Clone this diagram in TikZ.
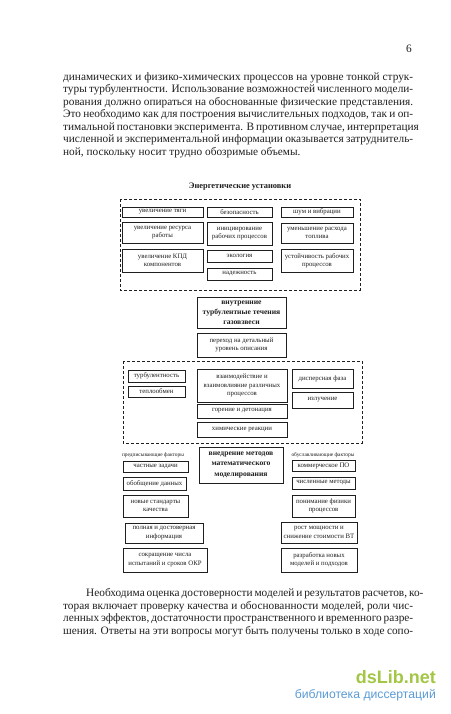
\documentclass[tikz,border=0pt]{standalone}
\usepackage{fontspec}
\setmainfont{Liberation Serif}
\newfontfamily\wmfont{Liberation Sans}
\definecolor{ink}{gray}{0.12}
\definecolor{wmgreen}{HTML}{A3C644}
\definecolor{wmblue}{HTML}{5B9BD5}
\tikzset{
  bx/.style={draw=ink, line width=0.7pt, inner sep=0pt, align=center, text=ink,
    font=\fontsize{6.8}{8.3}\selectfont},
  bxb/.style={bx, font=\fontsize{7.6}{10.2}\selectfont\bfseries},
  frame/.style={draw=ink, line width=0.6pt, dash pattern=on 3pt off 2pt},
  hdr/.style={text=ink, inner sep=0pt, font=\fontsize{5.4}{6}\selectfont},
  bodyline/.style={text=ink, inner sep=0pt, anchor=base west, font=\fontsize{11.3}{12.5}\selectfont}
}
\begin{document}
\begin{tikzpicture}[x=1pt,y=-1pt]
\useasboundingbox (0,0) rectangle (450,714);
\fill[white] (0,0) rectangle (450,714);

% page number
\node[bodyline] (pg) at (406,53) {6};

% first paragraph
\node[bodyline] (a1) at (63,80.5) {\makebox[350pt][s]{динамических и физико-химических процессов на уровне тонкой струк-}};
\node[bodyline] (a2) at (63,93) {\makebox[350pt][s]{туры турбулентности. Использование возможностей численного модели-}};
\node[bodyline] (a3) at (63,105.5) {\makebox[350pt][s]{рования должно опираться на обоснованные физические представления.}};
\node[bodyline] (a4) at (63,118) {\makebox[350pt][s]{Это необходимо как для построения вычислительных подходов, так и оп-}};
\node[bodyline] (a5) at (63,130.5) {\makebox[350pt][s]{тимальной постановки эксперимента. В противном случае, интерпретация}};
\node[bodyline] (a6) at (63,143) {\makebox[350pt][s]{численной и экспериментальной информации оказывается затруднитель-}};
\node[bodyline] (a7) at (63,155.5) {ной, поскольку носит трудно обозримые объемы.};

% title
\node[text=ink, font=\fontsize{8.4}{10}\selectfont\bfseries] (title) at (240,187) {Энергетические установки};

% block 1
\draw[frame] (120,199) rectangle (360,290);
\node[bx, minimum width=81pt, minimum height=10pt] (l1) at (162.5,212) {увеличение тяги};
\node[bx, minimum width=81pt, minimum height=21pt] (l2) at (162.5,232.5) {увеличение ресурса\\работы};
\node[bx, minimum width=81pt, minimum height=23pt] (l3) at (162.5,260.5) {увеличение КПД\\компонентов};
\node[bx, minimum width=65pt, minimum height=10pt] (m1) at (239.5,212.5) {безопасность};
\node[bx, minimum width=65pt, minimum height=23pt] (m2) at (239.5,233.5) {инициирование\\рабочих процессов};
\node[bx, minimum width=65pt, minimum height=12pt] (m3) at (239.5,256) {экология};
\node[bx, minimum width=65pt, minimum height=12pt] (m4) at (239.5,274) {надежность};
\node[bx, minimum width=72pt, minimum height=10pt] (r1) at (317,212) {шум и вибрации};
\node[bx, minimum width=72pt, minimum height=20pt] (r2) at (317,233) {уменьшение расхода\\топлива};
\node[bx, minimum width=72pt, minimum height=23pt] (r3) at (317,260.5) {устойчивость рабочих\\процессов};

% central boxes
\node[bxb, minimum width=89pt, minimum height=31pt] (c1) at (241.5,312.5) {внутренние\\турбулентные течения\\газовзвеси};
\node[bx, minimum width=89pt, minimum height=24pt] (c2) at (241.5,345) {переход на детальный\\уровень описания};

% block 2
\draw[frame] (123,361) rectangle (362,443);
\node[bx, minimum width=57pt, minimum height=12pt] (t1) at (156.5,376) {турбулентность};
\node[bx, minimum width=57pt, minimum height=11pt] (t2) at (156.5,391.5) {теплообмен};
\node[bx, minimum width=90pt, minimum height=33pt] (v1) at (242,385.5) {взаимодействие и\\взаимовлияние различных\\процессов};
\node[bx, minimum width=90pt, minimum height=14pt] (v2) at (242,411) {горение и детонация};
\node[bx, minimum width=90pt, minimum height=15pt] (v3) at (242,429.5) {химические реакции};
\node[bx, minimum width=61pt, minimum height=19pt] (d1) at (322.5,378.5) {дисперсная фаза};
\node[bx, minimum width=61pt, minimum height=16pt] (d2) at (322.5,400) {излучение};

% block 3
\node[bxb, minimum width=84pt, minimum height=36pt] (b) at (241,465) {внедрение методов\\математического\\моделирования};
\node[hdr] (hl) at (153,455) {предписывающие факторы};
\node[hdr] (hr) at (323,455) {обуславливающие факторы};

\node[bx, minimum width=65pt, minimum height=11pt] (p1) at (155.5,466.5) {частные задачи};
\node[bx, minimum width=63pt, minimum height=13pt] (p2) at (154.5,483.5) {обобщение данных};
\node[bx, minimum width=65pt, minimum height=22pt] (p3) at (155.5,506) {новые стандарты\\качества};
\node[bx, minimum width=78pt, minimum height=20pt] (p4) at (164,533) {полная и достоверная\\информация};
\node[bx, minimum width=84pt, minimum height=24pt] (p5) at (165,560) {сокращение числа\\испытаний и сроков ОКР};

\node[bx, minimum width=63pt, minimum height=11pt] (q1) at (323.5,465.5) {коммерческое ПО};
\node[bx, minimum width=63pt, minimum height=12pt] (q2) at (323.5,483) {численные методы};
\node[bx, minimum width=63pt, minimum height=22pt] (q3) at (323.5,506) {понимание физики\\процессов};
\node[bx, minimum width=76pt, minimum height=21pt] (q4) at (319,532.5) {рост мощности и\\снижение стоимости ВТ};
\node[bx, minimum width=76pt, minimum height=24pt] (q5) at (319,560) {разработка новых\\моделей и подходов};

% second paragraph
\node[bodyline] (b1) at (86,596.5) {\makebox[327pt][s]{Необходима оценка достоверности моделей и результатов расчетов, ко-}};
\node[bodyline] (b2) at (63,609) {\makebox[350pt][s]{торая включает проверку качества и обоснованности моделей, роли чис-}};
\node[bodyline] (b3) at (63,621.5) {\makebox[350pt][s]{ленных эффектов, достаточности пространственного и временного разре-}};
\node[bodyline] (b4) at (63,634) {\makebox[350pt][s]{шения. Ответы на эти вопросы могут быть получены только в ходе сопо-}};

% watermark
\node[anchor=base east, inner sep=0pt, text=wmgreen, font=\wmfont\fontsize{18}{20}\selectfont\bfseries] (wm1) at (436,683) {dsLib.net};
\node[anchor=base east, inner sep=0pt, text=wmblue, font=\wmfont\fontsize{12.2}{14}\selectfont] (wm2) at (436,698) {библиотека диссертаций};
\end{tikzpicture}
\end{document}
